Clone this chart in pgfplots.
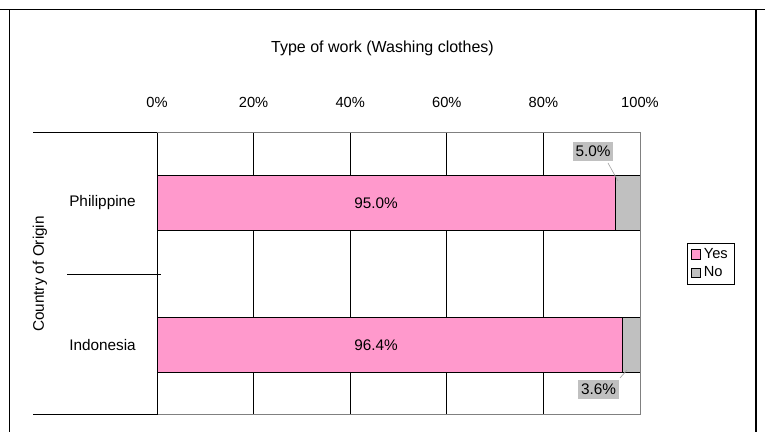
\documentclass[border=0pt]{standalone}
\usepackage{fontspec}
\setmainfont{Liberation Sans}
\usepackage{pgfplots}
\pgfplotsset{compat=1.18}
\definecolor{pinkbar}{HTML}{FF99CC}
\definecolor{graybar}{HTML}{C0C0C0}
\definecolor{borderg}{HTML}{808080}
\begin{document}
\begin{tikzpicture}
\useasboundingbox (0,0) rectangle (573.75pt,324pt);
\begin{axis}[
  at={(117.75pt,12.75pt)}, anchor=south west,
  scale only axis, width=362.25pt, height=211.5pt,
  xbar stacked, bar width=41.25pt,
  xmin=0, xmax=100, ymin=-0.493, ymax=1.493,
  xtick={0,20,40,60,80,100},
  xticklabel={\pgfmathprintnumber{\tick}\%},
  xticklabel pos=upper,
  xticklabel style={anchor=center, yshift=23.25pt, font=\fontsize{11}{13}\selectfont},
  /pgf/number format/assume math mode=true,
  major tick length=0pt,
  ytick=\empty,
  xmajorgrids, major grid style={black, line width=0.75pt},
  axis line style={draw=borderg, line width=0.75pt},
  legend style={at={(rel axis cs:1.097,0.61)}, anchor=north west,
    draw=black, line width=0.6pt, font=\fontsize{11}{13}\selectfont,
    inner xsep=3pt, inner ysep=2pt, row sep=0.5pt, legend cell align=left},
  legend image code/.code={\draw[#1, line width=0.6pt] (0cm,-0.11cm) rectangle (0.24cm,0.13cm);},
  clip=false,
]
\addplot[fill=pinkbar, draw=black, line width=0.6pt] coordinates {(95.0,1) (96.4,0)};
\addplot[fill=graybar, draw=black, line width=0.6pt] coordinates {(5.0,1) (3.6,0)};
\legend{Yes,No}
\end{axis}
\begin{scope}[x=0.75pt,y=-0.75pt,yshift=324pt]
  % outer frame
  \draw[black, line width=0.9pt] (0,9.5) -- (765,9.5);
  \draw[black, line width=0.9pt] (9.5,9.5) -- (9.5,432);
  \draw[black, line width=0.9pt] (756,9.5) -- (756,432);
  % category axis lines
  \draw[black, line width=0.75pt] (33,133) -- (157,133);
  \draw[black, line width=0.75pt] (67,275) -- (161,275);
  \draw[black, line width=0.75pt] (33,415) -- (157,415);
  \draw[black, line width=0.75pt] (157,133) -- (157,415);
  \draw[borderg, line width=0.75pt] (640.5,133) -- (640.5,415);
  % title
  \node[font=\fontsize{12}{14}\selectfont] at (382.5,48) {Type of work (Washing clothes)};
  % axis title and categories
  \node[rotate=90, font=\fontsize{11.5}{13}\selectfont] at (40,274) {Country of Origin};
  \node[anchor=west, inner sep=0pt, font=\fontsize{11.5}{13}\selectfont] at (69,203) {Philippine};
  \node[anchor=west, inner sep=0pt, font=\fontsize{11.5}{13}\selectfont] at (69,345) {Indonesia};
  % data labels
  \node[font=\fontsize{11.5}{13}\selectfont] at (376,203) {95.0\%};
  \node[font=\fontsize{11.5}{13}\selectfont] at (376,345) {96.4\%};
  \draw[borderg!70, line width=0.5pt] (608,163) -- (618,181);
  \node[fill=graybar, inner xsep=2pt, inner ysep=3pt, font=\fontsize{11.5}{13}\selectfont] at (593,151.5) {5.0\%};
  \draw[borderg!70, line width=0.5pt] (620,378) -- (627,370);
  \node[fill=graybar, inner xsep=2pt, inner ysep=3pt, font=\fontsize{11.5}{13}\selectfont] at (598.5,389.5) {3.6\%};
\end{scope}
\end{tikzpicture}
\end{document}
